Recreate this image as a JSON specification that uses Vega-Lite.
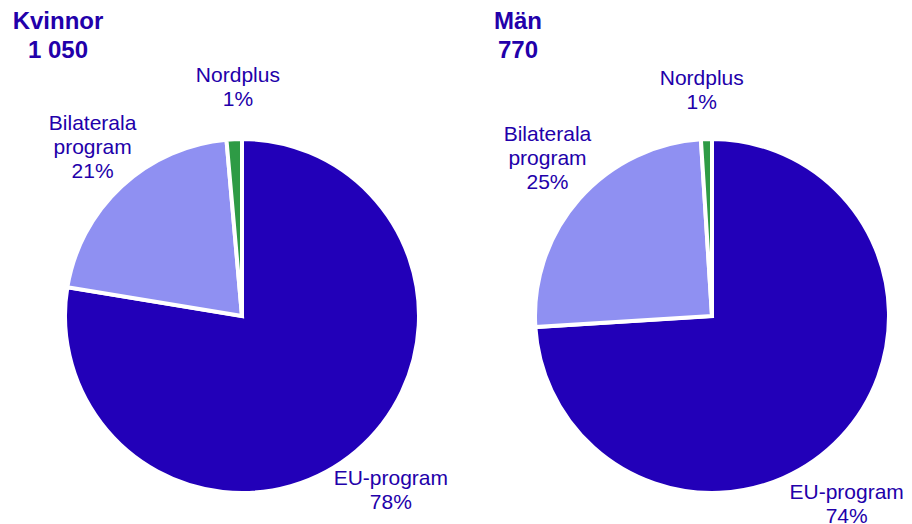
{
  "$schema": "https://vega.github.io/schema/vega-lite/v6.json",
  "width": 912,
  "height": 416,
  "autosize": {"type": "none"},
  "padding": {"top": 108, "left": 0, "right": 0, "bottom": 0},
  "background": "white",
  "config": {"view": {"stroke": null}, "font": "Liberation Sans", "text": {"radius": 230, "fontSize": 21, "lineHeight": 24, "lineBreak": "\n", "align": "center", "baseline": "middle", "fill": "#2200aa"}},
  "datasets": {
    "slices": [
      {"group": "Kvinnor", "category": "EU-program", "rank": 1, "percent": 77.6, "label": "EU-program\n78%"},
      {"group": "Kvinnor", "category": "Bilaterala program", "rank": 2, "percent": 21.0, "label": "Bilaterala\nprogram\n21%"},
      {"group": "Kvinnor", "category": "Nordplus", "rank": 3, "percent": 1.4, "label": "Nordplus\n1%"},
      {"group": "Män", "category": "EU-program", "rank": 1, "percent": 74, "label": "EU-program\n74%"},
      {"group": "Män", "category": "Bilaterala program", "rank": 2, "percent": 25, "label": "Bilaterala\nprogram\n25%"},
      {"group": "Män", "category": "Nordplus", "rank": 3, "percent": 1, "label": "Nordplus\n1%"}
    ],
    "titles": [
      {"group": "Kvinnor", "title": "Kvinnor\n1 050"},
      {"group": "Män", "title": "Män\n770"}
    ]
  },
  "encoding": {
    "x": {"field": "group", "type": "nominal", "scale": {"type": "point", "domain": ["Kvinnor", "Män"], "range": [242, 712], "padding": 0}, "axis": null}
  },
  "layer": [
    {
      "data": {"name": "slices"},
      "transform": [{"filter": "datum.group === 'Kvinnor'"}],
      "encoding": {
        "theta": {"field": "percent", "type": "quantitative", "stack": true},
        "order": {"field": "rank", "type": "quantitative"},
        "detail": {"field": "category", "type": "nominal"}
      },
      "layer": [
        {
          "mark": {"type": "arc", "radius": 177, "stroke": "white", "strokeWidth": 4},
          "encoding": {
            "color": {"field": "category", "type": "nominal", "scale": {"domain": ["EU-program", "Bilaterala program", "Nordplus"], "range": ["#2200b8", "#8f90f2", "#2e9b45"]}, "legend": null}
          }
        },
        {
          "mark": {"type": "text", "dx": 0, "dy": -12},
          "encoding": {"text": {"condition": {"test": "datum.category !== 'EU-program'", "value": ""}, "field": "label", "type": "nominal"}}
        },
        {
          "mark": {"type": "text", "dx": 7, "dy": -23},
          "encoding": {"text": {"condition": {"test": "datum.category !== 'Bilaterala program'", "value": ""}, "field": "label", "type": "nominal"}}
        },
        {
          "mark": {"type": "text", "dx": 6, "dy": -10},
          "encoding": {"text": {"condition": {"test": "datum.category !== 'Nordplus'", "value": ""}, "field": "label", "type": "nominal"}}
        }
      ]
    },
    {
      "data": {"name": "slices"},
      "transform": [{"filter": "datum.group === 'Män'"}],
      "encoding": {
        "theta": {"field": "percent", "type": "quantitative", "stack": true},
        "order": {"field": "rank", "type": "quantitative"},
        "detail": {"field": "category", "type": "nominal"}
      },
      "layer": [
        {
          "mark": {"type": "arc", "radius": 177, "stroke": "white", "strokeWidth": 4},
          "encoding": {
            "color": {"field": "category", "type": "nominal", "legend": null}
          }
        },
        {
          "mark": {"type": "text", "dx": -33, "dy": 20},
          "encoding": {"text": {"condition": {"test": "datum.category !== 'EU-program'", "value": ""}, "field": "label", "type": "nominal"}}
        },
        {
          "mark": {"type": "text", "dx": 8, "dy": -29},
          "encoding": {"text": {"condition": {"test": "datum.category !== 'Bilaterala program'", "value": ""}, "field": "label", "type": "nominal"}}
        },
        {
          "mark": {"type": "text", "dx": -3, "dy": -7},
          "encoding": {"text": {"condition": {"test": "datum.category !== 'Nordplus'", "value": ""}, "field": "label", "type": "nominal"}}
        }
      ]
    },
    {
      "data": {"name": "titles"},
      "transform": [{"filter": "datum.group === 'Kvinnor'"}],
      "mark": {"type": "text", "radius": 0, "dx": -184, "dy": -287, "fontSize": 24, "fontWeight": "bold", "lineHeight": 29, "baseline": "alphabetic"},
      "encoding": {"text": {"field": "title", "type": "nominal"}}
    },
    {
      "data": {"name": "titles"},
      "transform": [{"filter": "datum.group === 'Män'"}],
      "mark": {"type": "text", "radius": 0, "dx": -194, "dy": -287, "fontSize": 24, "fontWeight": "bold", "lineHeight": 29, "baseline": "alphabetic"},
      "encoding": {"text": {"field": "title", "type": "nominal"}}
    }
  ]
}
